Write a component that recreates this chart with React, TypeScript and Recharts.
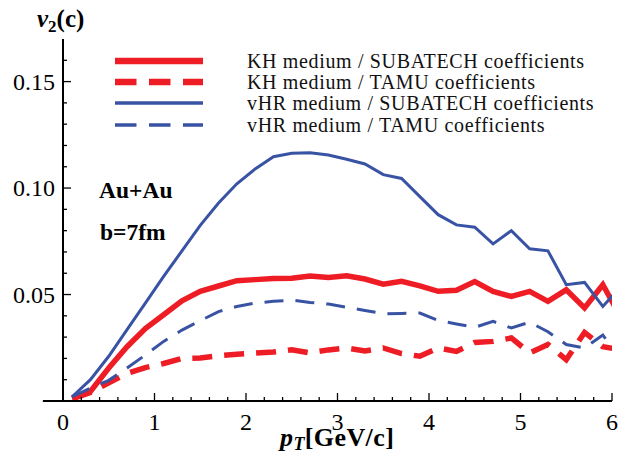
import React from 'react';
import { LineChart, Line, XAxis, YAxis, ReferenceLine, Customized } from 'recharts';

// transverse momentum grid (GeV/c)
const pT = [0.1, 0.3, 0.5, 0.7, 0.9, 1.1, 1.3, 1.5, 1.7, 1.9, 2.1, 2.3, 2.5, 2.7, 2.9, 3.1,
  3.3, 3.5, 3.7, 3.9, 4.1, 4.3, 4.5, 4.7, 4.9, 5.1, 5.3, 5.5, 5.7, 5.9, 6.1];

// KH medium / SUBATECH coefficients
const khSub = [0.0015, 0.0045, 0.0155, 0.0255, 0.034, 0.0405, 0.047, 0.0515, 0.054, 0.0565, 0.057,
  0.0575, 0.0577, 0.0587, 0.058, 0.0588, 0.0573, 0.0549, 0.0562, 0.0541, 0.0515, 0.052, 0.0561,
  0.0515, 0.0491, 0.0515, 0.0468, 0.0522, 0.0437, 0.0546, 0.039];
// KH medium / TAMU coefficients
const khTamu = [0.001, 0.004, 0.0085, 0.013, 0.0157, 0.0176, 0.02, 0.0202, 0.0213, 0.022, 0.0225,
  0.023, 0.0241, 0.0226, 0.024, 0.0249, 0.0235, 0.0249, 0.0223, 0.021, 0.0249, 0.0233, 0.0275,
  0.028, 0.0296, 0.0226, 0.0265, 0.0194, 0.0322, 0.0255, 0.024];
// vHR medium / SUBATECH coefficients
const vhrSub = [0.002, 0.01, 0.021, 0.0335, 0.046, 0.0585, 0.0705, 0.0825, 0.093, 0.102, 0.109,
  0.1147, 0.1163, 0.1166, 0.1155, 0.1135, 0.1113, 0.1063, 0.1045, 0.096, 0.0875, 0.0827, 0.0816,
  0.0738, 0.08, 0.0715, 0.0705, 0.0546, 0.0557, 0.0444, 0.054];
// vHR medium / TAMU coefficients
const vhrTamu = [0.002, 0.006, 0.0097, 0.0155, 0.0216, 0.028, 0.0333, 0.0377, 0.042, 0.0444, 0.046,
  0.0468, 0.0474, 0.0463, 0.0455, 0.044, 0.0425, 0.041, 0.0411, 0.0413, 0.0378, 0.0362, 0.0346,
  0.0374, 0.0343, 0.037, 0.0325, 0.0265, 0.0249, 0.031, 0.019];

const seriesKeys = ['khSub', 'khTamu', 'vhrSub', 'vhrTamu'];
const seriesNames = [
  'KH medium / SUBATECH coefficients',
  'KH medium / TAMU coefficients',
  'vHR medium / SUBATECH coefficients',
  'vHR medium / TAMU coefficients',
];
const seriesColors = ['#ee1d25', '#ee1d25', '#3953a4', '#3953a4'];
const seriesWidths = [5.5, 5.5, 3, 3];
const seriesDash = [undefined, '20 12', undefined, '19 12'];

const xMajorTicks = [0, 1, 2, 3, 4, 5, 6];
const xTicks = [0, 0.2, 0.4, 0.6, 0.8, 1, 1.2, 1.4, 1.6, 1.8, 2, 2.2, 2.4, 2.6, 2.8, 3, 3.2, 3.4,
  3.6, 3.8, 4, 4.2, 4.4, 4.6, 4.8, 5, 5.2, 5.4, 5.6, 5.8, 6];
const yMajorTicks = [0.05, 0.1, 0.15];
const yMajorLabels = ['0.05', '0.10', '0.15'];
const yTicks = [0.01, 0.02, 0.03, 0.04, 0.05, 0.06, 0.07, 0.08, 0.09, 0.1, 0.11, 0.12, 0.13, 0.14,
  0.15, 0.16];

const data = pT.map((x, i) => ({ pT: x, khSub: khSub[i], khTamu: khTamu[i], vhrSub: vhrSub[i], vhrTamu: vhrTamu[i] }));

const FONT = "'Liberation Serif', 'DejaVu Serif', serif";
const serif: React.CSSProperties = { fontFamily: FONT };

const XTick = (props: any) => {
  const { x, y, payload } = props;
  const v = payload.value;
  const major = xMajorTicks.some((m) => Math.abs(m - v) < 1e-9);
  return (
    <g>
      <line x1={x} x2={x} y1={y} y2={y - (major ? 8 : 4)} stroke="#000" strokeWidth={1.3} />
      {major && (
        <text x={x} y={y + 29} textAnchor="middle" style={serif} fontSize={24} fill="#000">
          {v}
        </text>
      )}
    </g>
  );
};

const YTick = (props: any) => {
  const { x, y, payload } = props;
  const v = payload.value;
  const idx = yMajorTicks.findIndex((m) => Math.abs(m - v) < 1e-9);
  const major = idx >= 0;
  return (
    <g>
      <line x1={x} x2={x + (major ? 8 : 4)} y1={y} y2={y} stroke="#000" strokeWidth={1.3} />
      {major && (
        <text x={x - 8} y={y + 8} textAnchor="end" style={serif} fontSize={24} fill="#000">
          {yMajorLabels[idx]}
        </text>
      )}
    </g>
  );
};

const Overlay = () => {
  const rowY = [61, 82, 103, 125];
  return (
    <g style={serif}>
      <text x={37} y={27} style={serif} fontWeight="bold" fontSize={25} fill="#000">
        <tspan fontStyle="italic">v</tspan>
        <tspan fontSize={17} dy={5}>2</tspan>
        <tspan dy={-5}>(c)</tspan>
      </text>
      <text x={280} y={446} style={serif} fontWeight="bold" fontSize={26} letterSpacing={0.4} fill="#000">
        <tspan fontStyle="italic">p</tspan>
        <tspan fontStyle="italic" fontSize={18} dy={4}>T</tspan>
        <tspan dy={-4}>[GeV/c]</tspan>
      </text>
      <text x={99} y={198} style={serif} fontWeight="bold" fontSize={23.5} fill="#000">Au+Au</text>
      <text x={100} y={240} style={serif} fontWeight="bold" fontSize={23.5} fill="#000">b=7fm</text>
      {seriesNames.map((name, i) => (
        <g key={name}>
          <line x1={115} x2={203} y1={rowY[i]} y2={rowY[i]} stroke={seriesColors[i]}
            strokeWidth={i < 2 ? 6.5 : 3.5} strokeDasharray={i === 1 || i === 3 ? '21.5 12.5' : undefined} />
          <text x={247} y={rowY[i] + 7} style={serif} fontSize={20} letterSpacing={0.65} fill="#111">{name}</text>
        </g>
      ))}
    </g>
  );
};

export default function App() {
  return (
    <div style={{ position: 'absolute', left: 0, top: 0, width: 628, height: 456, background: '#fff', fontFamily: FONT }}>
      <LineChart width={628} height={456} data={data} margin={{ top: 39, right: 16, bottom: 0, left: 0 }}>
        <XAxis dataKey="pT" type="number" domain={[0, 6]} allowDataOverflow ticks={xTicks} interval={0}
          tick={<XTick />} tickSize={0} tickMargin={0} tickLine={false} height={55}
          axisLine={{ stroke: '#000', strokeWidth: 2 }} />
        <YAxis type="number" domain={[0, 0.17]} allowDataOverflow ticks={yTicks} interval={0}
          tick={<YTick />} tickSize={0} tickMargin={0} tickLine={false} width={63}
          axisLine={{ stroke: '#000', strokeWidth: 2 }} />
        <ReferenceLine segment={[{ x: -0.22, y: 0 }, { x: 0, y: 0 }]} stroke="#000" strokeWidth={2} ifOverflow="visible" />
        {seriesKeys.map((k, i) => (
          <Line key={k} dataKey={k} type="linear" dot={false} isAnimationActive={false}
            stroke={seriesColors[i]} strokeWidth={seriesWidths[i]} strokeDasharray={seriesDash[i]} />
        ))}
        <Customized component={Overlay} />
      </LineChart>
    </div>
  );
}
